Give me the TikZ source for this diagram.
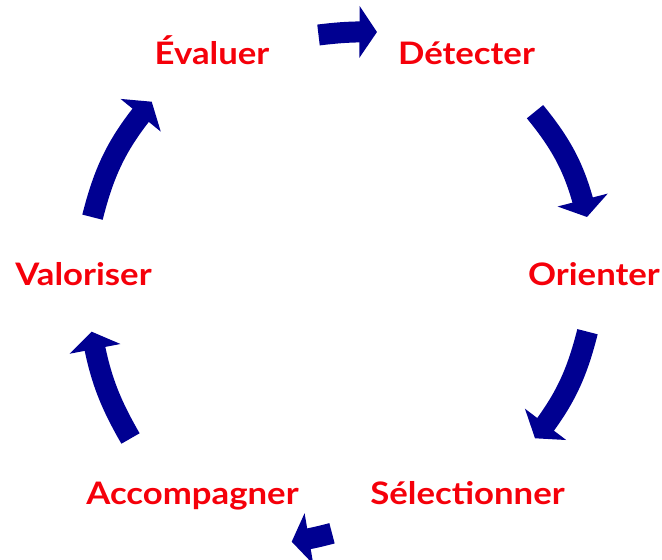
\documentclass[tikz,border=0pt]{standalone}
\usepackage{fontspec}
\setmainfont{Lato}[FakeStretch=1.12]
\usetikzlibrary{arrows.meta,bending}
\definecolor{navyblue}{RGB}{0,0,145}
\definecolor{labelred}{RGB}{245,0,10}
\begin{document}
\begin{tikzpicture}[x=1pt,y=1pt,
  lbl/.style={anchor=base,text=labelred,font=\fontsize{31}{36}\selectfont\bfseries,inner sep=0pt},
  cyc/.style={draw=navyblue,line width=21pt,line cap=butt,-{Triangle[width=51pt,length=17.5pt,flex]}}]
\useasboundingbox (0,0) rectangle (662,560);
% labels
\node[lbl] (eval) at (212,495) {Évaluer};
\node[lbl] (detect) at (466.5,495) {Détecter};
\node[lbl] (orient) at (594,274.7) {Orienter};
\node[lbl] (select) at (467.5,55) {Sélectionner};
\node[lbl] (accomp) at (192.5,55) {Accompagner};
\node[lbl] (valor) at (83.5,274.7) {Valoriser};
% arrow end points
\coordinate (t1) at (318.5,525);   \coordinate (p1) at (377,528);
\coordinate (t2) at (535,448.3);   \coordinate (p2) at (587,343);
\coordinate (t3) at (587.5,228.3); \coordinate (p3) at (535,121.7);
\coordinate (t4) at (332,26.7);    \coordinate (p4) at (291.7,18.3);
\coordinate (t5) at (130.5,121.5); \coordinate (p5) at (91.7,228.3);
\coordinate (t6) at (92.5,342.8);  \coordinate (p6) at (151.7,458.3);
\draw[cyc] (t1) to[bend left=4] (p1);
\draw[cyc] (t2) to[bend left=13] (p2);
\draw[cyc] (t3) to[bend left=12] (p3);
\draw[cyc] (t4) to[bend left=3] (p4);
\draw[cyc] (t5) to[bend left=10] (p5);
\draw[cyc] (t6) to[bend left=13] (p6);
\end{tikzpicture}
\end{document}
